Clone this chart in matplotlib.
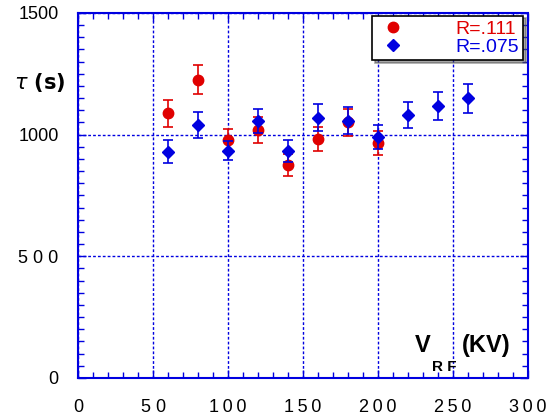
import numpy as np
import matplotlib as mpl
import matplotlib.pyplot as plt
from matplotlib.lines import Line2D
from matplotlib.ticker import MultipleLocator

mpl.rcParams['font.family'] = ['Liberation Sans', 'DejaVu Sans']
mpl.rcParams['font.size'] = 12

# lifetime vs RF voltage, two values of R
v_111 = [60, 80, 100, 120, 140, 160, 180, 200]
tau_111 = [1087, 1225, 978, 1019, 874, 982, 1050, 967]
err_111 = [55, 60, 45, 52, 45, 50, 55, 50]

v_075 = [60, 80, 100, 120, 140, 160, 180, 200, 220, 240, 260]
tau_075 = [930, 1040, 934, 1056, 933, 1070, 1058, 989, 1081, 1118, 1149]
err_075 = [48, 52, 38, 50, 45, 54, 55, 50, 53, 57, 59]

xticks = [0, 50, 100, 150, 200, 250, 300]
xlabels = ['0', '5 0', '1\u20090\u20090', '1\u20095\u20090', '2\u20090\u20090', '2\u20095\u20090', '3\u20090\u20090']
yticks = [0, 500, 1000, 1500]
ylabels = ['0', '5 0 0', '1000', '1500']

red = '#e00000'
blue = '#0000e0'

fig = plt.figure(figsize=(5.58, 4.19), dpi=100)
ax = fig.add_axes([0.14, 0.098, 0.806, 0.871])

ax.errorbar(v_111, tau_111, yerr=err_111, fmt='o', color=red, ms=7.5,
            capsize=3.5, elinewidth=1.2, capthick=1.2, zorder=3)
ax.errorbar(v_075, tau_075, yerr=err_075, fmt='D', color=blue, ms=6,
            capsize=3.5, elinewidth=1.2, capthick=1.2, zorder=4)

ax.set_xlim(0, 300)
ax.set_ylim(0, 1500)
ax.set_xticks(xticks)
ax.set_xticklabels(xlabels)
ax.set_yticks(yticks)
ax.set_yticklabels(ylabels)
ax.xaxis.set_minor_locator(MultipleLocator(10))
ax.yaxis.set_minor_locator(MultipleLocator(50))
ax.tick_params(which='both', direction='in', top=True, right=True, color=blue,
               width=1, labelsize=13)
ax.tick_params(which='major', length=6)
ax.tick_params(which='minor', length=4)
ax.tick_params(axis='x', pad=15)
ax.tick_params(axis='y', pad=14)
for s in ax.spines.values():
    s.set_color(blue)
    s.set_linewidth(1.5)
    s.set_linestyle((0, (2, 1)))
ax.grid(True, which='major', color=blue, linestyle=(0, (2, 1.5)), linewidth=1)

ax.text(-0.027, 0.81, r'$\tau$ (s)', transform=ax.transAxes, ha='right',
        va='center', fontsize=15, fontweight='bold', family='DejaVu Sans')
ax.text(0.749, 0.07, 'V', transform=ax.transAxes, fontsize=17,
        fontweight='bold', ha='left', va='baseline')
ax.text(0.787, 0.02, 'R F', transform=ax.transAxes, fontsize=11,
        fontweight='bold', ha='left', va='baseline')
ax.text(0.853, 0.07, '(KV)', transform=ax.transAxes, fontsize=17,
        fontweight='bold', ha='left', va='baseline')

handles = [Line2D([], [], marker='o', color=red, ls='none', ms=7.5),
           Line2D([], [], marker='D', color=blue, ls='none', ms=6)]
leg = ax.legend(handles, ['R=.111', 'R=.075'], loc='upper right',
                bbox_to_anchor=(0.99, 0.993), frameon=True,
                fancybox=False, shadow=True, framealpha=1, edgecolor='black',
                fontsize=14, handletextpad=2.4, borderpad=0.25,
                labelspacing=0.0, borderaxespad=0.0, handlelength=1.6)
leg.get_frame().set_linewidth(1.2)
leg.set_zorder(10)
for txt, c in zip(leg.get_texts(), [red, blue]):
    txt.set_color(c)

fig.savefig('out.png', dpi=100)
